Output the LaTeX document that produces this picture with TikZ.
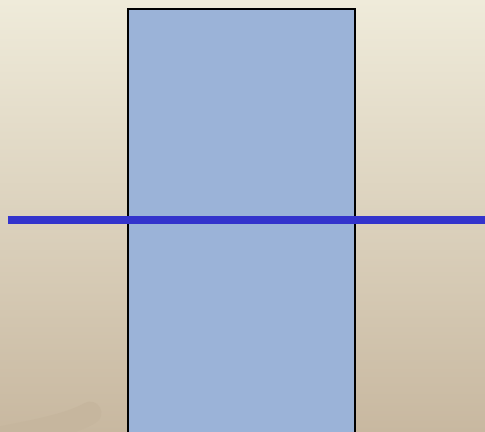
\documentclass[tikz,border=0pt]{standalone}
\usetikzlibrary{positioning}
\definecolor{bgtop}{HTML}{EFEBDA}
\definecolor{bgbot}{HTML}{C8B8A0}
\definecolor{slab}{HTML}{9BB3D8}
\definecolor{ray}{HTML}{3333CC}
\definecolor{swoosh}{HTML}{C6B69E}

\begin{document}
\begin{tikzpicture}[x=0.02cm,y=-0.02cm,
    slab/.style={fill=slab,draw=black,line width=1.6pt},
    ray/.style={draw=ray,line width=4.4pt},
    swoosh/.style={draw=swoosh,line width=13pt,line cap=round}]
  % background
  \shade[top color=bgtop,bottom color=bgbot] (0,0) rectangle (485,432);
  \useasboundingbox (0,0) rectangle (485,432);
  \draw[swoosh] (-10,440) .. controls (30,432) and (70,425) .. (90,413);
  % glass block
  \draw[slab] (128,9) rectangle (355,440);
  % light ray
  \coordinate (start) at (8,220);
  \coordinate (end) at (490,220);
  \draw[ray] (start) -- (end);
\end{tikzpicture}
\end{document}
